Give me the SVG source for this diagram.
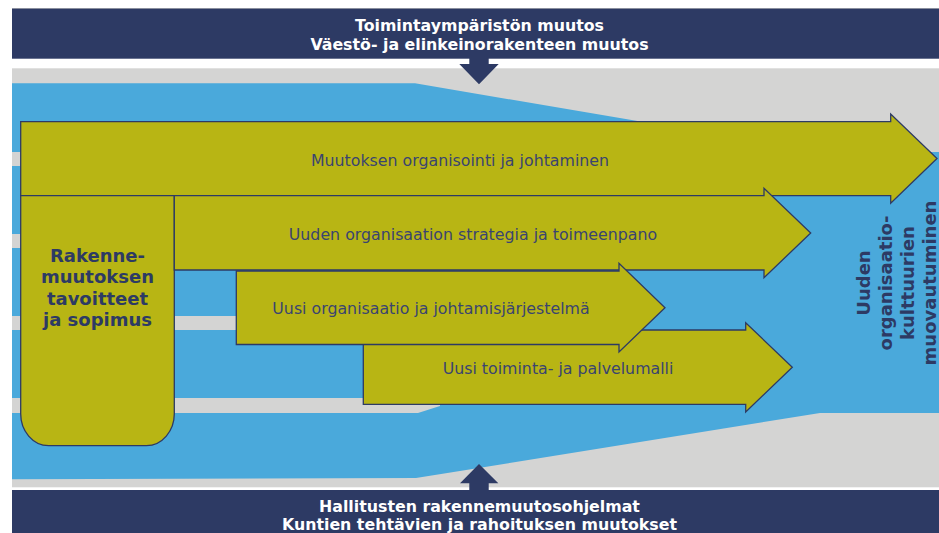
<svg xmlns="http://www.w3.org/2000/svg" width="939" height="533" viewBox="0 0 939 533">
<style>
.banner{fill:#2D3A64}
.btxt{font-family:"DejaVu Sans",Verdana,sans-serif;font-weight:bold;font-size:15.8px;fill:#FFFFFF;text-anchor:middle}
.arrow{fill:#B8B514;stroke:#2D3A64;stroke-width:1.3;stroke-linejoin:miter}
.lbl{font-family:"DejaVu Sans",Verdana,sans-serif;font-size:15.8px;fill:#3A4470;text-anchor:middle}
.big{font-family:"DejaVu Sans",Verdana,sans-serif;font-weight:bold;font-size:18px;fill:#2D3A64;text-anchor:middle}
.gray{fill:#D4D4D3}
.blue{fill:#4AA9DB}
.conn{fill:#2D3A64}
</style>
<rect x="0" y="0" width="939" height="533" fill="#FFFFFF"/>
<!-- background band -->
<rect class="gray" x="12" y="68.3" width="927" height="419"/>
<polygon class="blue" points="12,83.3 415,83.3 820,152 939,152 939,413 820,413 416,478 12,479.3"/>
<!-- gray stripes -->
<rect class="gray" x="12" y="152" width="60" height="14"/>
<rect class="gray" x="12" y="234" width="60" height="14"/>
<rect class="gray" x="12" y="316" width="260" height="14"/>
<polygon class="gray" points="12,398 440,398 440,406 418,413 12,413"/>
<!-- banners -->
<g id="banner-top">
<rect class="banner" x="12" y="8" width="927" height="50.7"/>
<rect x="12" y="8" width="927" height="1" fill="#8A8F9E"/>
<text class="btxt" x="479.5" y="31">Toimintaympäristön muutos</text>
<text class="btxt" x="479.5" y="49.5">Väestö- ja elinkeinorakenteen muutos</text>
</g>
<g id="banner-bottom">
<rect class="banner" x="12" y="490" width="927" height="43"/>
<text class="btxt" x="479.5" y="512">Hallitusten rakennemuutosohjelmat</text>
<text class="btxt" x="479.5" y="530">Kuntien tehtävien ja rahoituksen muutokset</text>
</g>
<g id="connectors">
<polygon class="conn" points="469.3,58 488.7,58 488.7,64 498.7,64 479,84.3 459.3,64 469.3,64"/>
<polygon class="conn" points="479,464 498.3,483.3 488.7,483.3 488.7,491 469.3,491 469.3,483.3 460,483.3"/>
</g>
<g id="arrow-muutoksen">
<path class="arrow" d="M20.7,121.7 H890.7 V114 L937,158.5 L890.7,203.3 V195.7 H20.7 Z"/>
<text class="lbl" x="460" y="165.5">Muutoksen organisointi ja johtaminen</text>
</g>
<g id="rakennemuutos">
<path class="arrow" d="M20.7,195.7 H174.3 V413 A28,32 0 0 1 146.3,445.7 H48.7 A28,32 0 0 1 20.7,413 Z"/>
<text class="big" x="97.5" y="261.5">Rakenne-<tspan x="97.5" dy="21.5">muutoksen</tspan><tspan x="97.5" dy="21.5">tavoitteet</tspan><tspan x="97.5" dy="21.5">ja sopimus</tspan></text>
</g>
<g id="arrow-strategia">
<path class="arrow" d="M174.3,195.7 H764 V188.3 L810.7,233 L764,277.7 V270 H174.3 Z"/>
<text class="lbl" x="473" y="240">Uuden organisaation strategia ja toimeenpano</text>
</g>
<g id="arrow-palvelumalli">
<path class="arrow" d="M363.3,330 H745.7 V322.7 L792.3,367.3 L745.7,412 V404.3 H363.3 Z"/>
<text class="lbl" x="558" y="374">Uusi toiminta- ja palvelumalli</text>
</g>
<g id="arrow-organisaatio">
<path class="arrow" d="M236.3,271 H619 V263.3 L665,307.7 L619,352 V344.5 H236.3 Z"/>
<text class="lbl" x="431" y="314">Uusi organisaatio ja johtamisjärjestelmä</text>
</g>
<g id="kulttuuri">
<text class="big" transform="translate(870,283) rotate(-90)" x="0" y="0">Uuden<tspan x="0" dy="22">organisaatio-</tspan><tspan x="0" dy="22">kulttuurien</tspan><tspan x="0" dy="22">muovautuminen</tspan></text>
</g>
</svg>
